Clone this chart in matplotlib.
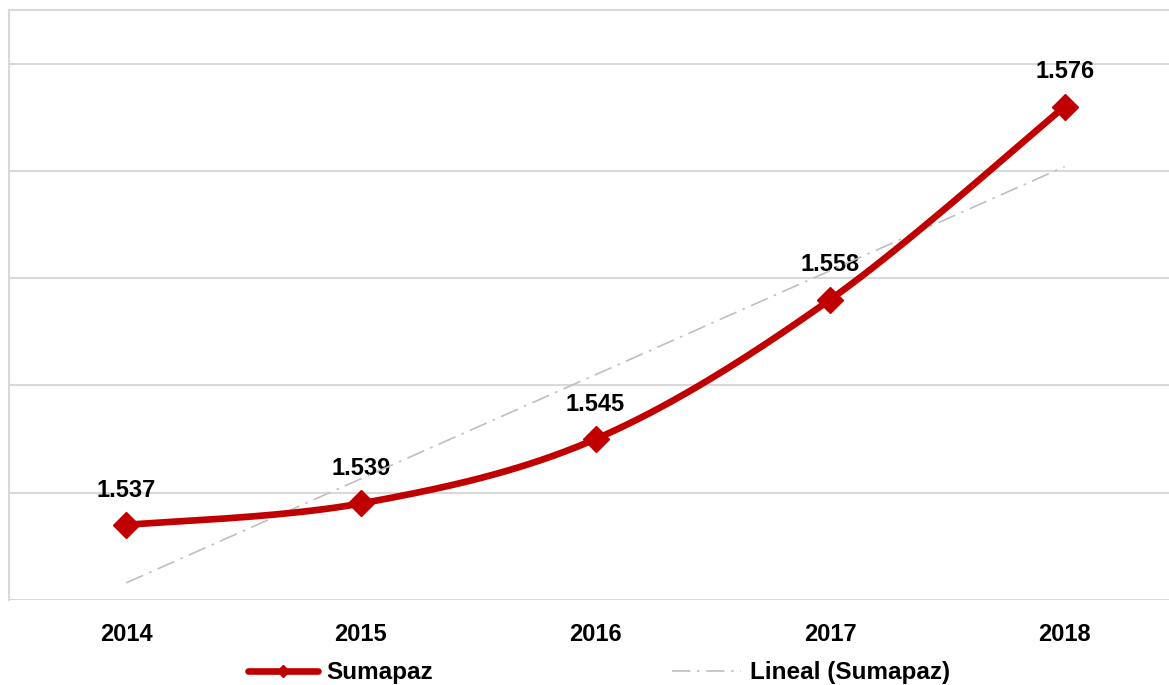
import numpy as np
import matplotlib
matplotlib.use("Agg")
import matplotlib.pyplot as plt
from matplotlib.lines import Line2D

years = ["2014", "2015", "2016", "2017", "2018"]
sumapaz = [1537, 1539, 1545, 1558, 1576]
series_name = "Sumapaz"
trend_name = "Lineal (Sumapaz)"

RED = "#C00000"
GRID = "#D9D9D9"
TREND = "#BFBFBF"

plt.rcParams['font.family'] = ['Liberation Sans', 'DejaVu Sans']


def smooth_curve(x, y, steps=40):
    # excel-like smoothed line: bezier with catmull-rom control points
    p = np.column_stack([x, y]).astype(float)
    n = len(p)
    out = []
    for i in range(n - 1):
        p0 = p[max(i - 1, 0)]
        p1 = p[i]
        p2 = p[i + 1]
        p3 = p[min(i + 2, n - 1)]
        c1 = p1 + (p2 - p0) / 6.0
        c2 = p2 - (p3 - p1) / 6.0
        t = np.linspace(0, 1, steps)[:, None]
        seg = ((1 - t) ** 3) * p1 + 3 * ((1 - t) ** 2) * t * c1 + 3 * (1 - t) * t ** 2 * c2 + t ** 3 * p2
        out.append(seg if i == 0 else seg[1:])
    out = np.vstack(out)
    return out[:, 0], out[:, 1]


def main():
    fig = plt.figure(figsize=(11.69, 6.85), dpi=100)
    ax = fig.add_axes([9 / 1169, 85 / 685, 1173 / 1169, 590 / 685])

    x = np.arange(len(years))
    y = np.array(sumapaz)

    # gridlines
    ax.set_ylim(1530, 1585)
    ax.set_yticks(np.arange(1530, 1581, 10))
    ax.yaxis.grid(True, color=GRID, linewidth=1.5)
    ax.set_axisbelow(True)
    ax.tick_params(axis='y', left=False, labelleft=False)
    ax.tick_params(axis='x', bottom=False, pad=13)
    ax.set_xlim(-0.5, len(years) - 0.5)
    ax.set_xticks(x)
    ax.set_xticklabels(years, fontsize=17, fontweight='bold')

    for side in ["right", "bottom"]:
        ax.spines[side].set_visible(False)
    ax.spines["left"].set_color(GRID)
    ax.spines["top"].set_color(GRID)
    ax.spines["left"].set_linewidth(1.5)
    ax.spines["top"].set_linewidth(1.5)

    # linear trend
    k, b = np.polyfit(x, y, 1)
    ax.plot(x, k * x + b, color=TREND, linewidth=1.2, linestyle=(0, (11, 4, 1.5, 4)), zorder=3)

    # smoothed series
    sx, sy = smooth_curve(x, y)
    ax.plot(sx, sy, color=RED, linewidth=4.8, solid_capstyle='round', zorder=4)
    ax.plot(x, y, linestyle='none', marker='D', markersize=13, color=RED, zorder=5)

    for xi, yi in zip(x, y):
        label = f"{yi:,}".replace(",", ".")
        ax.annotate(label, (xi, yi), xytext=(0, 25), textcoords='offset points',
                    ha='center', va='center', fontsize=17, fontweight='bold', zorder=2)

    handles = [
        Line2D([], [], color=RED, linewidth=4.8, marker='D', markersize=6, solid_capstyle='round'),
        Line2D([], [], color=TREND, linewidth=1.2, linestyle=(0, (11, 4, 1.5, 4))),
    ]
    fig.legend(handles, [series_name, trend_name], loc='center', bbox_to_anchor=(0.5125, 0.018),
               ncol=2, frameon=False, prop={'size': 17.5, 'weight': 'bold'},
               handlelength=2.85, handletextpad=0.35, columnspacing=9.85)

    fig.savefig("out.png", dpi=100)


if __name__ == '__main__':
    main()
